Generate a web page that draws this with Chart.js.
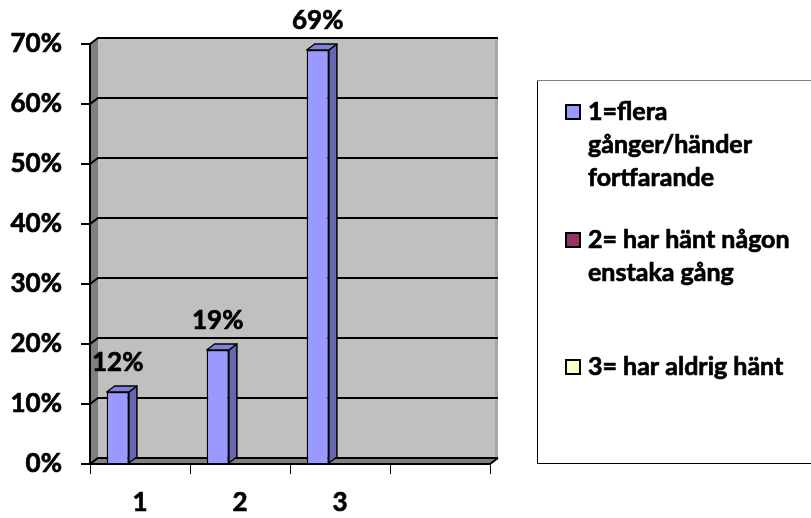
<!DOCTYPE html>
<html>
<head>
<meta charset="utf-8">
<script src="https://cdn.jsdelivr.net/npm/chart.js@4/dist/chart.umd.min.js"></script>
<style>
  body { margin: 0; background: #fff; }
  canvas { display: block; }
</style>
</head>
<body>
<canvas id="myChart" width="811" height="518"></canvas>
<script>
// categories on the x axis (the last slot is left empty)
const categories = ["1", "2", "3", ""];
// answer shares for each group
const seriesFlera = [0.12, 0.19, 0.69, null];
const seriesNagon = [null, null, null, null];
const seriesAldrig = [null, null, null, null];
// series names, one line per row in the legend
const seriesNames = [
  ["1=flera", "gånger/händer", "fortfarande"],
  ["2= har hänt någon", "enstaka gång"],
  ["3= har aldrig hänt"]
];
const seriesColors = ["#9999FF", "#993366", "#FFFFCC"];
const yTicks = [0, 0.1, 0.2, 0.3, 0.4, 0.5, 0.6, 0.7];

const FONT = "Lato";
const STROKE = 0.7; // thickens the bold text a little
const DX = 8, DY = -6; // depth offset of the 3d box

let pct = (v) => Math.round(v * 100) + "%";

let boldText = (ctx, t, x, y) => {
  ctx.fillText(t, x, y);
  ctx.strokeText(t, x, y);
};

// back wall, side wall, floor and grid lines
const box3d = {
  id: "box3d",
  beforeDatasetsDraw(chart) {
    const ctx = chart.ctx;
    const y = chart.scales.y;
    const { left, right } = chart.chartArea;
    const top = y.getPixelForValue(yTicks[yTicks.length - 1]);
    const bottom = y.getPixelForValue(0);
    ctx.save();
    // back wall
    ctx.fillStyle = "#C0C0C0";
    ctx.fillRect(left + DX, top + DY, right - left, bottom - top);
    ctx.fillStyle = "#A6A6A6";
    ctx.fillRect(right + DX - 3, top + DY, 3, bottom - top);
    // left wall
    ctx.fillStyle = "#808080";
    ctx.beginPath();
    ctx.moveTo(left, top);
    ctx.lineTo(left + DX, top + DY);
    ctx.lineTo(left + DX, bottom + DY);
    ctx.lineTo(left, bottom);
    ctx.closePath();
    ctx.fill();
    // floor
    ctx.beginPath();
    ctx.moveTo(left, bottom);
    ctx.lineTo(left + DX, bottom + DY);
    ctx.lineTo(right + DX, bottom + DY);
    ctx.lineTo(right, bottom);
    ctx.closePath();
    ctx.fill();
    // grid lines
    ctx.strokeStyle = "#000";
    ctx.lineWidth = 2;
    yTicks.forEach((v) => {
      const py = y.getPixelForValue(v);
      ctx.beginPath();
      ctx.moveTo(left, py);
      ctx.lineTo(left + DX, py + DY);
      ctx.lineTo(right + DX, py + DY);
      ctx.stroke();
    });
    // front edges
    ctx.beginPath();
    ctx.moveTo(left, top);
    ctx.lineTo(left, bottom);
    ctx.lineTo(right, bottom);
    ctx.lineTo(right + DX, bottom + DY);
    ctx.stroke();
    ctx.restore();
  },
  afterDatasetsDraw(chart) {
    const ctx = chart.ctx;
    const meta = chart.getDatasetMeta(0);
    const values = chart.data.datasets[0].data;
    ctx.save();
    ctx.lineJoin = "round";
    meta.data.forEach((bar, i) => {
      if (values[i] == null) return;
      const { x, y, base, width } = bar.getProps(["x", "y", "base", "width"], true);
      const l = x - width / 2, r = x + width / 2;
      ctx.strokeStyle = "#000";
      ctx.lineWidth = 1.5;
      // side face
      ctx.fillStyle = "#6666B3";
      ctx.beginPath();
      ctx.moveTo(r, y);
      ctx.lineTo(r + DX, y + DY);
      ctx.lineTo(r + DX, base + DY);
      ctx.lineTo(r, base);
      ctx.closePath();
      ctx.fill();
      ctx.stroke();
      // top face
      ctx.fillStyle = "#8080DD";
      ctx.beginPath();
      ctx.moveTo(l, y);
      ctx.lineTo(l + DX, y + DY);
      ctx.lineTo(r + DX, y + DY);
      ctx.lineTo(r, y);
      ctx.closePath();
      ctx.fill();
      ctx.stroke();
      // value label
      ctx.fillStyle = "#000";
      ctx.lineWidth = STROKE;
      ctx.font = "bold 26px " + FONT;
      ctx.textAlign = "center";
      ctx.textBaseline = "middle";
      boldText(ctx, pct(values[i]), x, y - 29);
    });
    ctx.restore();
  }
};

// legend box on the right
const sideLegend = {
  id: "sideLegend",
  afterDraw(chart) {
    const ctx = chart.ctx;
    const rowY = [112, 240, 367];
    const lineH = 33;
    ctx.save();
    ctx.strokeStyle = "#000";
    ctx.lineWidth = 1;
    ctx.strokeRect(537.5, 80.5, 300, 383);
    ctx.strokeStyle = "#808080";
    ctx.beginPath();
    ctx.moveTo(537, 80.5);
    ctx.lineTo(811, 80.5);
    ctx.stroke();
    ctx.font = "bold 25px " + FONT;
    ctx.textBaseline = "middle";
    ctx.textAlign = "left";
    seriesNames.forEach((lines, i) => {
      ctx.fillStyle = seriesColors[i];
      ctx.fillRect(566, rowY[i] - 7, 14, 14);
      ctx.strokeStyle = "#000";
      ctx.lineWidth = 2;
      ctx.strokeRect(566, rowY[i] - 7, 14, 14);
      ctx.fillStyle = "#000";
      ctx.lineWidth = STROKE;
      lines.forEach((t, j) => boldText(ctx, t, 588, rowY[i] + j * lineH));
    });
    ctx.restore();
  }
};

const ctx = document.getElementById("myChart");
const dataset = {
  labels: categories,
  datasets: [
    { label: seriesNames[0].join(" "), data: seriesFlera, backgroundColor: seriesColors[0], borderColor: "#000", borderWidth: 1.5 },
    { label: seriesNames[1].join(" "), data: seriesNagon, backgroundColor: seriesColors[1], borderColor: "#000", borderWidth: 1.5 },
    { label: seriesNames[2].join(" "), data: seriesAldrig, backgroundColor: seriesColors[2], borderColor: "#000", borderWidth: 1.5 }
  ]
};

const axisFont = { family: FONT, weight: "bold", size: 26 };

const config = {
  type: "bar",
  data: dataset,
  options: {
    responsive: false,
    animation: false,
    layout: { padding: { top: 44, right: 321, left: 0, bottom: 0 } },
    datasets: { bar: { categoryPercentage: 3 / 4.5, barPercentage: 1 } },
    plugins: { legend: { display: false }, tooltip: { enabled: false } },
    scales: {
      x: {
        afterFit: (s) => { s.height = 54; },
        border: { display: false },
        grid: { drawOnChartArea: false, drawTicks: true, tickLength: 10, color: "#000", lineWidth: 1 },
        ticks: { color: "#000", font: axisFont, padding: 13, textStrokeColor: "#000", textStrokeWidth: STROKE }
      },
      y: {
        min: 0,
        max: 0.7,
        afterFit: (s) => { s.width = 90; },
        afterBuildTicks: (s) => { s.ticks = yTicks.map((v) => ({ value: v })); },
        border: { display: false },
        grid: { drawOnChartArea: false, drawTicks: true, tickLength: 9, color: "#000", lineWidth: 2 },
        ticks: { color: "#000", font: axisFont, padding: 19, textStrokeColor: "#000", textStrokeWidth: STROKE, callback: (v) => pct(v) }
      }
    }
  },
  plugins: [box3d, sideLegend]
};
const chart = new Chart(ctx, config);
</script>
</body>
</html>
